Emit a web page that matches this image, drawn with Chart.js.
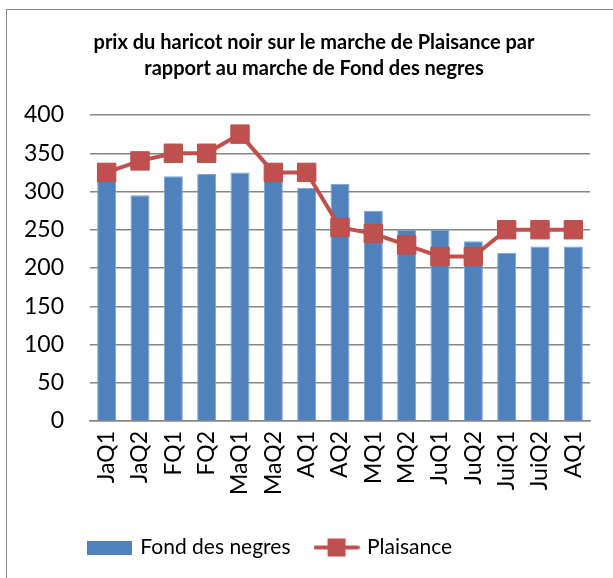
<!DOCTYPE html>
<html>
<head>
<meta charset="utf-8">
<script src="https://cdn.jsdelivr.net/npm/chart.js@4"></script>
<style>
	html, body { margin: 0; padding: 0; background: #fff; }
	#wrap { position: relative; width: 613px; height: 578px; overflow: hidden; }
	#frame { position: absolute; left: 6px; top: 9px; width: 700px; height: 700px; border-left: 1px solid #888; border-top: 1px solid #888; }
	#chartBox { position: absolute; left: 0; top: 0; width: 613px; height: 578px; }
</style>
</head>
<body>
<div id="wrap">
	<div id="frame"></div>
	<div id="chartBox"><canvas id="prixChart"></canvas></div>
</div>
<script>
const categories = [ 'JaQ1', 'JaQ2', 'FQ1', 'FQ2', 'MaQ1', 'MaQ2', 'AQ1', 'AQ2', 'MQ1', 'MQ2', 'JuQ1', 'JuQ2', 'JuiQ1', 'JuiQ2', 'AQ1' ];
const fondDesNegres = [ 315, 295, 320, 323, 325, 315, 305, 310, 275, 250, 250, 235, 220, 228, 228 ];
const plaisance = [ 325, 340, 350, 350, 375, 325, 325, 253, 245, 230, 215, 215, 250, 250, 250 ];
const yTicks = [ 0, 50, 100, 150, 200, 250, 300, 350, 400 ];
const titleLines = [ 'prix du haricot noir sur le marche de Plaisance par', 'rapport au marche de Fond des negres' ];

const FONT = 'Lato, "Open Sans", sans-serif';
const BLUE = '#4F81BD';
const RED = '#C0504D';

// legend swatches drawn on small canvases
function barSwatch() {
	const c = document.createElement( 'canvas' );
	c.width = 45;
	c.height = 14;
	const g = c.getContext( '2d' );
	g.fillStyle = BLUE;
	g.fillRect( 0, 0, 45, 14 );
	return c;
}

function lineSwatch() {
	const c = document.createElement( 'canvas' );
	c.width = 46;
	c.height = 20;
	const g = c.getContext( '2d' );
	g.strokeStyle = RED;
	g.lineWidth = 4;
	g.lineCap = 'round';
	g.beginPath();
	g.moveTo( 2, 10 );
	g.lineTo( 44, 10 );
	g.stroke();
	g.fillStyle = RED;
	g.fillRect( 14, 1, 18, 18 );
	return c;
}

// nudge title and legend so they sit where the original puts them
const shiftBlocks = {
	id: 'shiftBlocks',
	afterLayout: function( chart ) {
		chart.titleBlock.left += 28;
		chart.legend.right -= 58;
	},
};

new Chart( document.getElementById( 'prixChart' ), {
	data: {
		labels: categories,
		datasets: [
			{
				type: 'line',
				label: 'Plaisance',
				data: plaisance,
				borderColor: RED,
				backgroundColor: RED,
				borderWidth: 4,
				pointStyle: 'rect',
				pointRadius: 13,
				pointHoverRadius: 13,
				pointBorderWidth: 1,
				pointBorderColor: '#b8504c',
				tension: 0,
				order: 0,
			},
			{
				type: 'bar',
				label: 'Fond des negres',
				data: fondDesNegres,
				backgroundColor: BLUE,
				borderColor: '#7ea3cf',
				borderWidth: 1,
				barPercentage: 0.57,
				categoryPercentage: 1,
				order: 1,
			},
		],
	},
	plugins: [ shiftBlocks ],
	options: {
		responsive: true,
		maintainAspectRatio: false,
		animation: false,
		layout: {
			padding: { left: 10, right: 23, top: 30, bottom: 10 },
		},
		plugins: {
			title: {
				display: true,
				text: titleLines,
				color: '#000',
				font: { family: FONT, size: 20, weight: 'bold', lineHeight: 1.3 },
				padding: { top: 0, bottom: 33 },
			},
			legend: {
				position: 'bottom',
				reverse: true,
				labels: {
					color: '#000',
					font: { family: FONT, size: 21 },
					usePointStyle: true,
					pointStyleWidth: 40,
					padding: 26,
					generateLabels: function( chart ) {
						const items = Chart.defaults.plugins.legend.labels.generateLabels( chart );
						items.forEach( function( it ) {
							it.pointStyle = it.text === 'Plaisance' ? lineSwatch() : barSwatch();
						} );
						return items;
					},
				},
			},
			tooltip: { enabled: false },
		},
		scales: {
			x: {
				afterFit: function( axis ) { axis.height = 90; },
				grid: { display: false, drawTicks: false },
				border: { color: '#868686', width: 1.5 },
				ticks: {
					color: '#000',
					font: { family: FONT, size: 23 },
					maxRotation: 90,
					minRotation: 90,
					autoSkip: false,
					padding: 10,
				},
			},
			y: {
				min: 0,
				max: 400,
				afterFit: function( axis ) { axis.width = 80; },
				afterBuildTicks: function( axis ) {
					axis.ticks = yTicks.map( function( v ) { return { value: v }; } );
				},
				grid: { color: '#868686', lineWidth: 1.5, drawTicks: false },
				border: { display: false },
				ticks: {
					color: '#000',
					font: { family: FONT, size: 23 },
					padding: 26,
				},
			},
		},
	},
} );
</script>
</body>
</html>
